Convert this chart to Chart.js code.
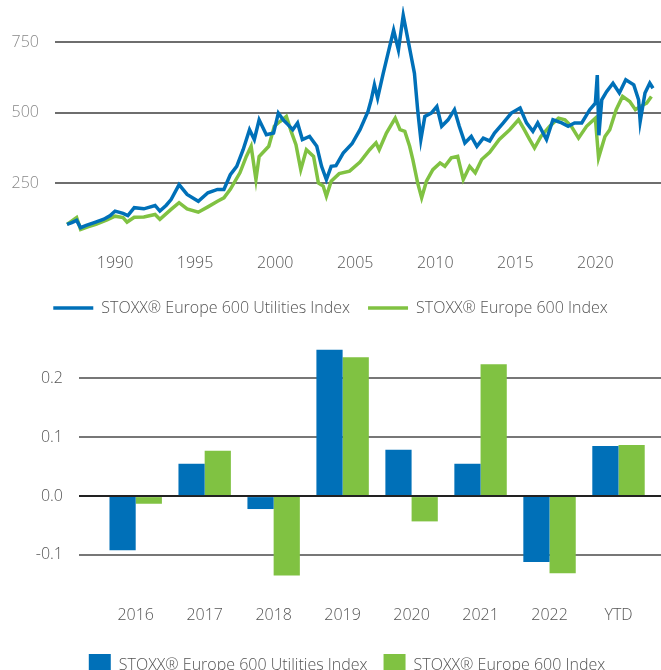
<!DOCTYPE html>
<html lang="en">
<head>
  <meta charset="UTF-8" />
  <title>STOXX Europe 600 Utilities</title>
  <script src="https://cdn.jsdelivr.net/npm/chart.js"></script>
  <style>
    body {
      margin: 0;
      background: #fff;
      overflow: hidden;
    }
    .box {
      position: relative;
      width: 661px;
    }
    #topBox { height: 326px; }
    #bottomBox { height: 360px; }
  </style>
</head>
<body>
  <div class="box" id="topBox"><canvas id="lineChart"></canvas></div>
  <div class="box" id="bottomBox"><canvas id="barChart"></canvas></div>

  <script>
    const seriesNames = ['STOXX® Europe 600 Utilities Index', 'STOXX® Europe 600 Index'];

    // index levels (decimal years)
    const utilDates = [1987.0, 1987.3, 1987.6, 1987.85, 1988.2, 1988.7, 1989.3, 1989.7, 1990.0, 1990.5,
      1990.8, 1991.2, 1991.8, 1992.5, 1992.8, 1993.2, 1993.5, 1994.0, 1994.5, 1995.2,
      1995.8, 1996.4, 1996.8, 1997.2, 1997.6, 1998.0, 1998.4, 1998.7, 1999.0, 1999.45,
      1999.9, 2000.2, 2000.5, 2000.8, 2001.1, 2001.4, 2001.7, 2002.15, 2002.6, 2002.9,
      2003.2, 2003.5, 2003.8, 2004.25, 2004.8, 2005.3, 2005.8, 2006.0, 2006.2, 2006.4,
      2006.75, 2007.05, 2007.4, 2007.7, 2008.0, 2008.3, 2008.5, 2008.7, 2008.9, 2009.1,
      2009.35, 2009.75, 2010.1, 2010.4, 2010.8, 2011.2, 2011.5, 2011.85, 2012.25, 2012.6,
      2013.0, 2013.4, 2013.7, 2014.25, 2014.75, 2015.3, 2015.7, 2016.1, 2016.4, 2016.95,
      2017.35, 2017.9, 2018.3, 2018.7, 2019.15, 2019.65, 2020.0, 2020.12, 2020.22, 2020.4,
      2020.7, 2021.1, 2021.5, 2021.9, 2022.4, 2022.7, 2022.8, 2023.1, 2023.4, 2023.6];
    const utilValues = [104, 110, 118, 92, 100, 110, 122, 135, 151, 143,
      135, 163, 159, 171, 151, 172, 192, 245, 210, 186,
      216, 228, 228, 280, 310, 369, 440, 405, 475, 422,
      428, 499, 475, 458, 440, 464, 405, 416, 381, 310,
      263, 310, 312, 357, 390, 440, 505, 546, 599, 552,
      640, 711, 793, 723, 846, 758, 699, 640, 511, 405,
      487, 499, 522, 452, 475, 511, 452, 393, 416, 381,
      410, 400, 428, 464, 499, 517, 464, 434, 464, 405,
      475, 464, 452, 464, 464, 511, 534, 634, 420, 546,
      575, 605, 570, 617, 599, 546, 469, 570, 605, 587];

    const stoxxDates = [1987.0, 1987.6, 1987.85, 1988.3, 1988.8, 1989.5, 1990.0, 1990.5, 1990.75, 1991.2,
      1991.8, 1992.5, 1992.8, 1993.5, 1994.0, 1994.5, 1995.2, 1995.8, 1996.4, 1996.8,
      1997.2, 1997.8, 1998.2, 1998.5, 1998.8, 1999.0, 1999.6, 1999.95, 2000.3, 2000.7,
      2001.0, 2001.3, 2001.6, 2001.95, 2002.4, 2002.7, 2003.0, 2003.2, 2003.5, 2004.0,
      2004.65, 2005.3, 2005.9, 2006.3, 2006.5, 2006.95, 2007.5, 2007.8, 2008.1, 2008.4,
      2008.6, 2008.9, 2009.15, 2009.45, 2009.85, 2010.3, 2010.6, 2011.0, 2011.4, 2011.75,
      2012.15, 2012.5, 2012.9, 2013.4, 2014.0, 2014.65, 2015.2, 2015.5, 2015.9, 2016.2,
      2016.6, 2017.15, 2017.7, 2018.1, 2018.5, 2018.95, 2019.45, 2020.0, 2020.2, 2020.6,
      2020.9, 2021.3, 2021.7, 2022.15, 2022.5, 2022.8, 2023.2, 2023.5];
    const stoxxValues = [104, 128, 86, 95, 104, 120, 133, 128, 112, 129,
      130, 139, 122, 157, 181, 159, 147, 166, 186, 198,
      228, 287, 345, 381, 263, 345, 381, 452, 469, 487,
      434, 387, 298, 369, 345, 251, 240, 204, 257, 284,
      293, 325, 369, 393, 369, 428, 481, 440, 434, 381,
      334, 251, 198, 257, 298, 322, 310, 340, 345, 263,
      310, 287, 334, 360, 405, 440, 475, 446, 405, 375,
      416, 452, 481, 475, 452, 410, 452, 481, 340, 416,
      440, 511, 558, 540, 511, 522, 534, 558];

    const yearTicks = [1990, 1995, 2000, 2005, 2010, 2015, 2020];
    const levelTicks = [250, 500, 750];

    // annual returns
    const barLabels = ['2016', '2017', '2018', '2019', '2020', '2021', '2022', 'YTD'];
    const utilReturns = [-0.092, 0.055, -0.022, 0.249, 0.079, 0.055, -0.112, 0.085];
    const stoxxReturns = [-0.013, 0.077, -0.135, 0.236, -0.043, 0.224, -0.131, 0.087];
    const returnTicks = [-0.1, 0, 0.1, 0.2];

    const BLUE = '#0070b8';
    const GREEN = '#80c242';
    const TEXT = '#555';
    const FONT = { family: "'Open Sans', sans-serif", size: 16, weight: 300 };

    Chart.defaults.font.family = FONT.family;
    Chart.defaults.color = TEXT;

    // y axis: fixed width, and no extra room above/below for the tick labels
    function fitYAxis(width) {
      return s => {
        s.width = width;
        s.paddingTop = 0;
        s.paddingBottom = 0;
      };
    }

    new Chart(document.getElementById('lineChart'), {
      type: 'line',
      data: {
        datasets: [
          {
            label: seriesNames[0],
            data: utilDates.map((d, i) => ({ x: d, y: utilValues[i] })),
            borderColor: BLUE,
            backgroundColor: BLUE,
            borderWidth: 3.5,
            pointRadius: 0
          },
          {
            label: seriesNames[1],
            data: stoxxDates.map((d, i) => ({ x: d, y: stoxxValues[i] })),
            borderColor: GREEN,
            backgroundColor: GREEN,
            borderWidth: 3.5,
            pointRadius: 0
          }
        ]
      },
      options: {
        responsive: true,
        maintainAspectRatio: false,
        animation: false,
        layout: { padding: { top: 6 } },
        plugins: {
          tooltip: { enabled: false },
          legend: {
            position: 'bottom',
            labels: {
              usePointStyle: true,
              pointStyle: 'line',
              pointStyleWidth: 40,
              padding: 18,
              color: TEXT,
              font: FONT
            }
          }
        },
        scales: {
          x: {
            type: 'linear',
            min: 1986.25,
            max: 2024.1,
            grid: { display: false },
            border: { display: false },
            afterBuildTicks: s => { s.ticks = yearTicks.map(v => ({ value: v })); },
            afterFit: s => { s.height += 5; },
            ticks: { padding: 4, autoSkip: false, maxRotation: 0, font: FONT, callback: v => String(v) }
          },
          y: {
            min: 42,
            max: 879,
            border: { display: false },
            grid: { color: '#6e6e6e', lineWidth: 2, drawTicks: false },
            afterBuildTicks: s => { s.ticks = levelTicks.map(v => ({ value: v })); },
            afterFit: fitYAxis(55),
            ticks: { padding: 16, color: '#888', font: FONT, callback: v => String(v) }
          }
        }
      }
    });

    new Chart(document.getElementById('barChart'), {
      type: 'bar',
      data: {
        datasets: [
          {
            label: seriesNames[0],
            data: utilReturns.map((v, i) => ({ x: i, y: v })),
            backgroundColor: BLUE,
            borderWidth: 0,
            clip: false
          },
          {
            label: seriesNames[1],
            data: stoxxReturns.map((v, i) => ({ x: i, y: v })),
            backgroundColor: GREEN,
            borderWidth: 0,
            clip: false
          }
        ]
      },
      options: {
        responsive: true,
        maintainAspectRatio: false,
        animation: false,
        datasets: { bar: { categoryPercentage: 0.76, barPercentage: 1 } },
        layout: { padding: { left: 33, top: 10 } },
        plugins: {
          tooltip: { enabled: false },
          legend: {
            position: 'bottom',
            labels: {
              boxWidth: 22,
              boxHeight: 22,
              padding: 16,
              color: TEXT,
              font: FONT
            }
          }
        },
        scales: {
          x: {
            type: 'linear',
            offset: false,
            min: -0.822,
            max: 7.616,
            grid: { display: false },
            border: { display: false },
            afterBuildTicks: s => { s.ticks = barLabels.map((_, i) => ({ value: i })); },
            afterFit: s => { s.height -= 4; },
            ticks: { padding: 17, autoSkip: false, maxRotation: 0, font: FONT, callback: v => barLabels[v] }
          },
          y: {
            min: -0.144,
            max: 0.2722,
            border: { display: false },
            grid: {
              color: c => (c.tick && c.tick.value === 0 ? '#222' : '#777'),
              lineWidth: 2,
              drawTicks: false
            },
            afterBuildTicks: s => { s.ticks = returnTicks.map(v => ({ value: v })); },
            afterFit: fitYAxis(46),
            ticks: { padding: 16, font: FONT, callback: v => v.toFixed(1) }
          }
        }
      }
    });
  </script>
</body>
</html>
